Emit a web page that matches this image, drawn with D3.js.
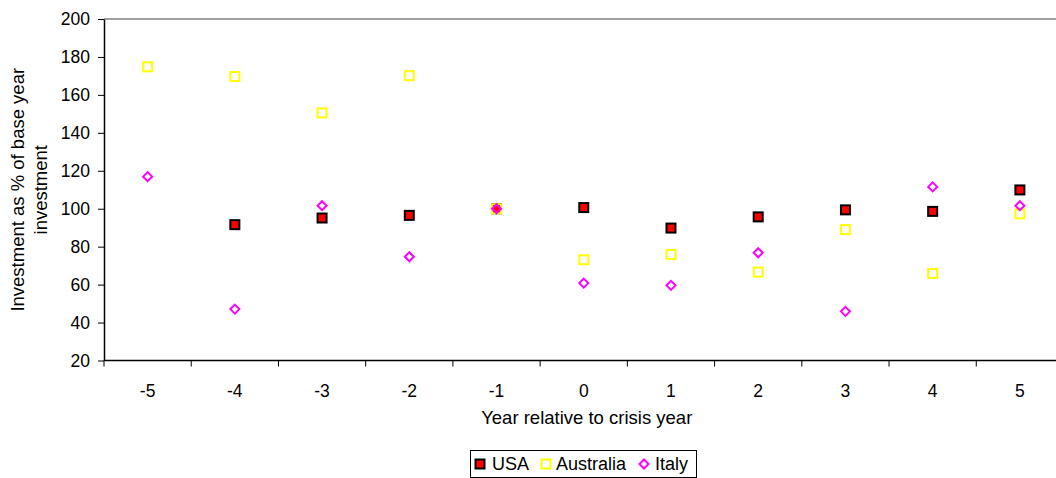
<!DOCTYPE html>
<html>
<head>
<meta charset="utf-8">
<script src="https://cdn.jsdelivr.net/npm/d3@7"></script>
<style>
  html, body { margin: 0; padding: 0; background: #fff; }
  svg { display: block; font-family: "Liberation Sans", Arial, sans-serif; }
</style>
</head>
<body>
<svg id="chart" width="1056" height="478"></svg>
<script>
const years = [-5, -4, -3, -2, -1, 0, 1, 2, 3, 4, 5];
const usa = [null, 91.6, 95.1, 96.5, 100, 100.6, 89.8, 95.7, 99.4, 98.6, 109.9];
const australia = [174.8, 169.7, 150.5, 170.1, 100, 73.1, 75.9, 66.6, 89.0, 65.9, 97.3];
const italy = [116.9, 47.1, 101.6, 74.7, 100, 60.8, 59.6, 76.8, 45.9, 111.5, 101.6];
const yTicks = [20, 40, 60, 80, 100, 120, 140, 160, 180, 200];
const seriesNames = ["USA", "Australia", "Italy"];

(function () {
const svg = d3.select("#chart");
const pLeft = 104, pRight = 1063.5, pTop = 19, pBottom = 360.5;
const tickFont = 17.5, titleFont = 18.5, legendFont = 18;

const x = d3.scaleBand().domain(years).range([pLeft, pRight]).padding(0);
const y = d3.scaleLinear().domain([20, 200]).range([pBottom, pTop]);

// top border of plot area (gray)
svg.append("line")
  .attr("x1", pLeft).attr("x2", 1056).attr("y1", pTop).attr("y2", pTop)
  .attr("stroke", "#808080").attr("stroke-width", 1.5);

// Y axis
const yAxis = svg.append("g")
  .attr("transform", `translate(${pLeft},0)`)
  .call(d3.axisLeft(y).tickValues(yTicks).tickSize(6).tickSizeOuter(0).tickPadding(8));
yAxis.select(".domain").attr("stroke", "#000").attr("stroke-width", 1.5);
yAxis.selectAll(".tick line").attr("stroke", "#000");
yAxis.selectAll(".tick text").attr("font-size", tickFont).attr("fill", "#000")
  .attr("font-family", "Liberation Sans, Arial, sans-serif");

// X axis: tick marks at band boundaries, labels at band centers
const xg = svg.append("g").attr("transform", `translate(0,${pBottom})`);
xg.append("line").attr("x1", pLeft).attr("x2", 1056).attr("y1", 0).attr("y2", 0)
  .attr("stroke", "#000").attr("stroke-width", 1.5);
const boundaries = years.map(d => x(d)).concat([x(years[years.length - 1]) + x.bandwidth()]);
xg.selectAll("line.tk").data(boundaries).enter().append("line")
  .attr("class", "tk")
  .attr("x1", d => d).attr("x2", d => d).attr("y1", 0).attr("y2", 6)
  .attr("stroke", "#000");
xg.selectAll("text.lb").data(years).enter().append("text")
  .attr("class", "lb")
  .attr("x", d => x(d) + x.bandwidth() / 2)
  .attr("y", 36)
  .attr("text-anchor", "middle")
  .attr("font-size", tickFont)
  .text(d => d);

// axis titles
svg.append("text")
  .attr("x", (pLeft + pRight) / 2 + 3).attr("y", 424)
  .attr("text-anchor", "middle").attr("font-size", titleFont)
  .text("Year relative to crisis year");

const yt = svg.append("text")
  .attr("transform", `translate(0,${(pTop + pBottom) / 2}) rotate(-90)`)
  .attr("text-anchor", "middle").attr("font-size", titleFont);
yt.append("tspan").attr("x", 0).attr("y", 24).text("Investment as % of base year");
yt.append("tspan").attr("x", 0).attr("y", 47).text("investment");

// markers
function drawUSA(g, cx, cy) {
  g.append("rect").attr("x", cx - 4.5).attr("y", cy - 4.5).attr("width", 9).attr("height", 9)
    .attr("fill", "#ff0000").attr("stroke", "#000").attr("stroke-width", 2);
}
function drawAus(g, cx, cy) {
  g.append("rect").attr("x", cx - 4.5).attr("y", cy - 4.5).attr("width", 9).attr("height", 9)
    .attr("fill", "none").attr("stroke", "#ffff00").attr("stroke-width", 2);
}
function drawItaly(g, cx, cy) {
  const r = 4.5;
  g.append("path").attr("d", `M${cx},${cy - r}L${cx + r},${cy}L${cx},${cy + r}L${cx - r},${cy}Z`)
    .attr("fill", "none").attr("stroke", "#ff00ff").attr("stroke-width", 2);
}

const marks = svg.append("g");
const cx = d => x(d) + x.bandwidth() / 2;
years.forEach((yr, i) => { if (usa[i] != null) drawUSA(marks, cx(yr), y(usa[i])); });
years.forEach((yr, i) => { if (australia[i] != null) drawAus(marks, cx(yr), y(australia[i])); });
years.forEach((yr, i) => { if (italy[i] != null) drawItaly(marks, cx(yr), y(italy[i])); });

// legend
const lg = svg.append("g");
lg.append("rect").attr("x", 470.5).attr("y", 450.5).attr("width", 226).attr("height", 27)
  .attr("fill", "#fff").attr("stroke", "#000").attr("stroke-width", 1);
const legendItems = [
  { name: seriesNames[0], mx: 480, tx: 492, draw: drawUSA },
  { name: seriesNames[1], mx: 546, tx: 556, draw: drawAus },
  { name: seriesNames[2], mx: 644, tx: 655, draw: drawItaly }
];
legendItems.forEach(it => {
  it.draw(lg, it.mx, 464);
  lg.append("text").attr("x", it.tx).attr("y", 470).attr("font-size", legendFont).text(it.name);
});
})();
</script>
</body>
</html>
